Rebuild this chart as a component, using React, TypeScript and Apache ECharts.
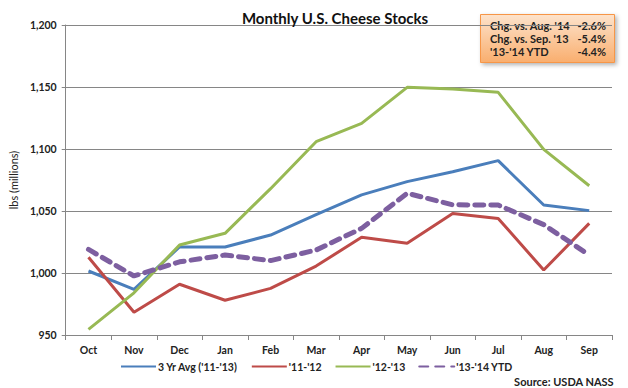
import React, { useEffect, useRef } from "react";
import * as echarts from "echarts";

const categories = ["Oct", "Nov", "Dec", "Jan", "Feb", "Mar", "Apr", "May", "Jun", "Jul", "Aug", "Sep"];
const avg3yr = [1001.6, 986.8, 1021, 1021, 1030.6, 1047, 1063, 1073.7, 1081.7, 1090.6, 1054.8, 1050.3];
const s1112 = [1012.7, 968.3, 990.9, 978, 987.6, 1005.6, 1028.8, 1024, 1048, 1044, 1002.4, 1040];
const s1213 = [954.6, 984, 1022.6, 1032, 1068, 1105.9, 1120.7, 1149.7, 1148.4, 1145.7, 1099.7, 1070.4];
const s1314 = [1019, 997.6, 1009, 1014.5, 1010, 1018.5, 1036, 1064.3, 1055, 1054.8, 1039, 1014.5];
const seriesNames = ["3 Yr Avg ('11-'13)", "'11-'12", "'12-'13", "'13-'14 YTD"];
const infoLabels = ["Chg. vs. Aug. '14", "Chg. vs. Sep. '13", "'13-'14 YTD"];
const infoValues = ["-2.6%", "-5.4%", "-4.4%"];

const FONT = "Lato, 'Liberation Sans', sans-serif";

export default function App() {
  const ref = useRef<HTMLDivElement>(null);
  useEffect(() => {
    if (!ref.current) return;
    const chart = echarts.init(ref.current, null, { renderer: "svg" });
    const mk = (name: string, data: number[], color: string, width: number, type: any = "solid") => ({
      name,
      type: "line",
      data,
      symbol: "none",
      lineStyle: { color, width, type, cap: type === "solid" ? "butt" : "round" },
      itemStyle: { color },
    });
    const infoText: any[] = [];
    infoLabels.forEach((l, i) => {
      infoText.push({
        type: "text",
        left: 490,
        top: 20 + i * 13,
        style: { text: l, fontSize: 11, fontWeight: "bold", fontFamily: FONT, fill: "#222" },
      });
      infoText.push({
        type: "text",
        right: 22,
        top: 20 + i * 13,
        style: { text: infoValues[i], fontSize: 11, fontWeight: "bold", fontFamily: FONT, fill: "#222" },
      });
    });
    chart.setOption({
      animation: false,
      backgroundColor: "#ffffff",
      title: {
        text: "Monthly U.S. Cheese Stocks",
        left: 330,
        textAlign: "center",
        top: 5,
        textStyle: { fontSize: 15, fontWeight: "bold", fontFamily: FONT, color: "#111" },
      },
      grid: { left: 57, right: 16, top: 25, bottom: 53 },
      legend: {
        top: 361,
        left: 120,
        padding: 0,
        itemWidth: 35,
        itemHeight: 4,
        itemGap: 13,
        itemStyle: { opacity: 0 },
        textStyle: { fontSize: 10.5, fontWeight: "bold", fontFamily: FONT, color: "#222", padding: [0, 0, 0, -3] },
        data: seriesNames,
      },
      xAxis: {
        type: "category",
        data: categories,
        boundaryGap: true,
        axisLine: { lineStyle: { color: "#868686", width: 1 } },
        axisTick: { show: true, alignWithLabel: false, length: 5, lineStyle: { color: "#868686" } },
        axisLabel: { fontSize: 10.5, fontWeight: "bold", fontFamily: FONT, color: "#222", margin: 9 },
      },
      yAxis: {
        type: "value",
        min: 950,
        max: 1200,
        interval: 50,
        name: "lbs (millions)",
        nameLocation: "middle",
        nameGap: 41,
        nameTextStyle: { fontSize: 11, fontFamily: FONT, color: "#222" },
        axisLine: { show: true, lineStyle: { color: "#868686" } },
        axisTick: { show: true, length: 4, lineStyle: { color: "#868686" } },
        splitLine: { lineStyle: { color: "#868686", width: 1 } },
        axisLabel: {
          fontSize: 10.5,
          fontWeight: "bold",
          fontFamily: FONT,
          color: "#222",
          margin: 9,
          formatter: (v: number) => v.toLocaleString("en-US"),
        },
      },
      series: [
        mk(seriesNames[0], avg3yr, "#4A7EBB", 3),
        mk(seriesNames[1], s1112, "#BE4B48", 3),
        mk(seriesNames[2], s1213, "#98B954", 3),
        mk(seriesNames[3], s1314, "#7D5FA0", 5, [9, 7]),
      ],
      graphic: [
        {
          type: "rect",
          left: 480,
          top: 14,
          shape: { width: 134, height: 48 },
          style: {
            fill: new echarts.graphic.LinearGradient(0, 0, 0, 1, [
              { offset: 0, color: "#FDE3CC" },
              { offset: 1, color: "#F9AE6E" },
            ]),
            stroke: "#F79646",
            lineWidth: 1,
            shadowBlur: 4,
            shadowOffsetX: 2,
            shadowOffsetY: 2,
            shadowColor: "rgba(0,0,0,0.3)",
          },
        },
        ...infoText,
        {
          type: "text",
          right: 14,
          top: 376,
          style: { text: "Source: USDA NASS", fontSize: 11, fontWeight: "bold", fontFamily: FONT, fill: "#222" },
        },
      ],
    });
    return () => chart.dispose();
  }, []);
  return (
    <div
      ref={ref}
      style={{ position: "absolute", left: 0, top: 0, width: 628, height: 388 }}
    />
  );
}
